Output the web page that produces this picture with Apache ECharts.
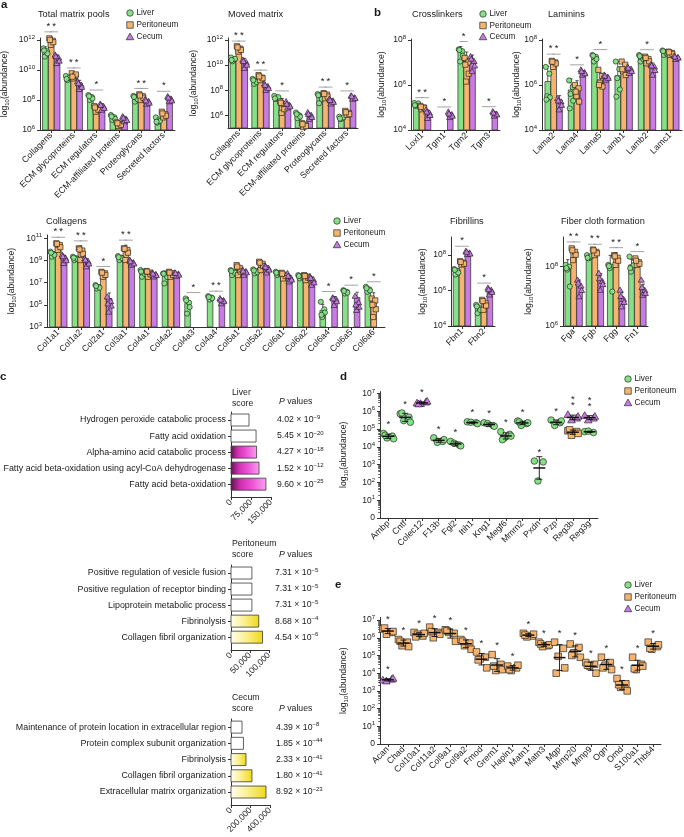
<!DOCTYPE html>
<html><head><meta charset="utf-8">
<script src="https://cdn.jsdelivr.net/npm/echarts@6/dist/echarts.min.js"></script>
<style>html,body{margin:0;padding:0;background:#fff}#c{width:684px;height:837px}</style>
</head><body><div id="c"></div>
<script>
// ================= DATA (values are log10(abundance) unless noted) =================
const groupNames = ['Liver', 'Peritoneum', 'Cecum'];

// a – Total matrix pools
const totalCats = ['Collagens','ECM glycoproteins','ECM regulators','ECM-affiliated proteins','Proteoglycans','Secreted factors'];
const totalLiver = [11.33, 9.51, 8.18, 6.84, 8.22, 6.71];
const totalPerit = [12.04, 9.67, 7.51, 6.44, 8.29, 7.11];
const totalCecum = [10.78, 9.11, 7.60, 6.78, 7.93, 8.11];
const totalLiverPts = [[11.44,11.25,10.89,11.1,11.3],[9.6,9.45,9.33,9.52,9.4],[8.33,8.2,8.0,8.1,8.25],[7.0,6.85,6.67,6.75,6.9],[8.27,8.15,7.89,8.05,8.2],[6.84,6.7,6.49,6.6,6.55]];
const totalPeritPts = [[12.11,11.95,11.67,11.85,12.0],[9.78,9.6,9.44,9.7,9.55],[7.6,7.45,7.22,7.35,7.5],[6.51,6.4,6.27,6.35,6.45],[8.38,8.25,8.0,8.15,8.3],[7.22,7.05,6.84,6.95,7.1]];
const totalCecumPts = [[11.0,10.8,10.44,10.6,10.9],[9.22,9.0,8.71,8.85,9.1],[7.73,7.55,7.33,7.45,7.65],[6.89,6.7,6.56,6.65,6.8],[8.04,7.9,7.73,7.8,7.95],[8.22,8.05,7.89,7.95,8.15]];
const totalSig = [[0,0,1],[0,1,2],[1,0,1],[1,1,2],[2,0,2],[4,0,1],[4,1,2],[5,0,2]];

// a – Moved matrix
const movedCats = totalCats;
const movedLiver = [10.47, 8.75, 7.42, 6.05, 7.5, 5.86];
const movedPerit = [11.34, 9.04, 6.97, 5.25, 7.69, 6.18];
const movedCecum = [10.28, 8.24, 6.76, 5.97, 7.19, 7.42];
const movedLiverPts = [[10.6,10.45,10.3,10.5,10.4],[8.9,8.75,8.5,8.65,8.8],[7.55,7.4,7.3,7.45,7.35],[6.23,6.0,5.78,5.9,6.1],[7.7,7.5,6.97,7.3,7.6],[5.9,5.8,5.7,5.85,5.75]];
const movedPeritPts = [[11.5,11.3,11.07,11.2,11.4],[9.2,9.0,8.8,8.95,9.1],[7.1,6.9,6.2,6.5,7.0],[5.4,5.25,5.07,5.15,5.3],[7.77,7.65,7.37,7.5,7.7],[6.36,6.2,6.05,6.1,6.25]];
const movedCecumPts = [[10.4,10.2,9.75,10.0,10.3],[8.5,8.3,8.0,8.15,8.4],[7.1,6.8,6.6,6.7,6.9],[6.23,6.0,5.7,5.85,6.1],[7.3,7.15,6.92,7.05,7.2],[7.55,7.4,7.3,7.35,7.5]];
const movedSig = [[0,0,1],[0,1,2],[1,0,1],[1,1,2],[2,0,2],[4,0,1],[4,1,2],[5,0,2]];

// b – Crosslinkers
const crossCats = ['Loxl1','Tgm1','Tgm2','Tgm3'];
const crossLiver = [5.16, null, 7.48, null];
const crossPerit = [5.0, null, 7.04, null];
const crossCecum = [4.74, 4.67, 7.07, 4.74];
const crossLiverPts = [[5.2,5.12,5.07,5.18,5.1],[],[7.58,7.5,7.04,7.3,7.55],[]];
const crossPeritPts = [[5.07,5.0,4.92,4.98,5.03],[],[7.2,7.0,6.15,6.5,6.9],[]];
const crossCecumPts = [[4.9,4.75,4.52,4.65,4.8],[4.8,4.68,4.56,4.62,4.72],[7.26,7.05,6.6,6.85,7.15],[4.81,4.7,4.62,4.68,4.76]];
const crossSig = [[0,0,1],[0,1,2],[1,0,2],[2,0,1],[3,0,2]];

// b – Laminins
const lamCats = ['Lama2','Lama4','Lama5','Lamb1','Lamb2','Lamc1'];
const lamLiver = [6.15, 5.78, 7.23, 6.41, 7.23, 7.44];
const lamPerit = [7.04, 5.9, 6.22, 6.74, 7.16, 7.41];
const lamCecum = [5.33, 6.55, 6.34, 6.67, 6.79, 7.23];
const lamLiverPts = [[6.8,6.5,5.5,5.45,5.35],[6.2,5.9,5.6,5.3,4.96],[7.33,7.25,7.04,7.15,7.3],[7.04,6.7,6.3,5.8,5.48],[7.33,7.2,7.04,7.15,7.28],[7.53,7.45,7.33,7.4,7.5]];
const lamPeritPts = [[7.07,7.0,6.8,6.95,7.03],[6.0,5.85,5.5,5.26,5.7],[6.67,6.4,6.1,5.93,6.0],[7.04,6.9,6.6,6.44,6.7],[7.26,7.15,6.96,7.05,7.2],[7.48,7.42,7.33,7.38,7.45]];
const lamCecumPts = [[5.4,5.25,4.9,5.1,5.3],[6.67,6.55,6.44,6.5,6.6],[6.44,6.35,6.22,6.3,6.4],[6.8,6.7,6.52,6.6,6.75],[6.9,6.8,6.44,6.65,6.85],[7.29,7.22,7.14,7.2,7.25]];
const lamSig = [[0,0,1],[0,1,2],[1,0,2],[2,0,2],[4,0,2]];

// a – Collagens
const colCats = ['Col1a1','Col1a2','Col2a1','Col3a1','Col4a1','Col4a2','Col4a3','Col4a4','Col5a1','Col5a2','Col6a1','Col6a2','Col6a4','Col6a5','Col6a6'];
const colLiver = [9.59, 9.19, 6.63, 9.25, 7.89, 7.68, 5.11, 5.66, 7.98, 8.05, 7.83, 7.53, 4.51, 6.17, 6.38];
const colPerit = [10.4, 9.89, 7.83, 9.95, 7.89, 7.83, null, null, 8.29, 8.68, 7.68, 7.53, null, null, 5.42];
const colCecum = [9.19, 8.89, 5.57, 8.8, 7.74, 7.77, null, 5.36, 7.98, 8.29, 7.38, 7.23, 5.48, 5.66, null];
const colLiverPts = [[9.8,9.6,9.34,9.5,9.7],[9.34,9.2,9.04,9.15,9.25],[6.78,6.6,6.47,6.55,6.7],[9.4,9.25,9.04,9.2,9.3],[8.14,7.9,7.53,7.8,8.0],[7.83,7.7,6.93,7.5,7.8],[5.57,5.2,4.21,4.8,5.4],[5.78,5.65,5.48,5.6,5.7],[8.14,8.0,7.68,7.9,8.05],[8.2,8.05,7.83,7.95,8.1],[7.98,7.85,7.68,7.8,7.9],[7.68,7.55,7.38,7.5,7.6],[5.27,4.6,3.9,4.3,4.1],[6.32,6.18,6.02,6.1,6.25],[6.63,6.4,6.17,6.3,6.5]];
const colPeritPts = [[10.55,10.4,9.95,10.2,10.5],[10.1,9.9,9.04,9.6,10.0],[7.98,7.85,7.53,7.7,7.9],[10.1,9.95,9.04,9.7,10.05],[8.05,7.9,7.53,7.75,8.0],[7.98,7.85,7.53,7.7,7.9],[],[],[8.59,8.3,7.68,8.0,8.45],[8.89,8.7,8.14,8.5,8.8],[7.89,7.7,7.38,7.6,7.8],[7.68,7.55,7.23,7.45,7.6],[],[],[5.57,5.4,3.9,4.6,5.0]];
const colCecumPts = [[9.5,9.2,8.74,9.0,9.35],[9.19,8.9,8.44,8.7,9.05],[5.72,5.3,4.36,4.9,5.1],[9.04,8.8,8.59,8.7,8.9],[7.89,7.75,7.53,7.65,7.8],[7.89,7.78,7.59,7.7,7.85],[],[5.57,5.4,5.11,5.3,5.45],[8.14,8.0,7.68,7.9,8.05],[8.5,8.3,7.89,8.15,8.4],[7.83,7.4,7.08,7.25,7.6],[7.53,7.25,6.78,7.0,7.4],[5.63,5.5,4.96,5.3,5.55],[5.78,5.2,4.51,4.8,5.0],[]];
const colSig = [[0,0,1],[0,1,2],[1,0,1],[1,1,2],[2,0,2],[3,0,1],[3,1,2],[6,0,2],[7,0,1],[7,1,2],[12,0,2],[13,0,2],[14,0,2]];

// b – Fibrillins
const fbnCats = ['Fbn1','Fbn2'];
const fbnLiver = [7.11, 5.0];
const fbnPerit = [7.55, 5.32];
const fbnCecum = [8.11, 5.98];
const fbnLiverPts = [[7.2,7.1,6.89,7.0,7.15],[5.19,5.0,4.72,4.9,5.1]];
const fbnPeritPts = [[7.64,7.55,7.45,7.5,7.6],[5.47,5.3,4.91,5.15,5.4]];
const fbnCecumPts = [[8.2,8.1,8.02,8.05,8.15],[6.13,6.0,5.75,5.9,6.05]];
const fbnSig = [[0,0,2],[1,0,2]];

// b – Fiber cloth formation
const fibCats = ['Fga','Fgb','Fgg','Fn1'];
const fibLiver = [7.94, 8.34, 8.0, 8.06];
const fibPerit = [8.51, 8.51, 8.34, 8.17];
const fibCecum = [7.33, 7.55, 6.93, 7.21];
const fibLiverPts = [[8.06,8.0,7.9,7.33,7.95],[8.39,8.33,8.28,8.35,8.3],[8.06,8.0,7.95,7.16,8.02],[8.34,8.0,7.83,8.05,7.95]];
const fibPeritPts = [[8.62,8.5,8.22,8.4,8.55],[8.58,8.5,8.39,8.45,8.55],[8.39,8.3,8.06,8.2,8.35],[8.28,8.15,8.06,8.1,8.2]];
const fibCecumPts = [[7.55,7.35,6.99,7.2,7.45],[7.78,7.5,7.21,7.4,7.6],[7.21,6.9,6.65,6.8,7.0],[7.55,7.2,7.04,7.1,7.3]];
const fibSig = [[0,0,1],[0,1,2],[1,0,1],[1,1,2],[2,0,1],[2,1,2],[3,0,2]];

// c – GO term scores (linear) and P values
const liverTerms = ['Hydrogen peroxide catabolic process','Fatty acid oxidation','Alpha-amino acid catabolic process','Fatty acid beta-oxidation using acyl-CoA dehydrogenase','Fatty acid beta-oxidation'];
const liverScores = [67500, 94000, 96000, 105000, 131000];
const liverP = [4.02e-9, 5.45e-20, 4.27e-18, 1.52e-12, 9.60e-25];
const peritTerms = ['Positive regulation of vesicle fusion','Positive regulation of receptor binding','Lipoprotein metabolic process','Fibrinolysis','Collagen fibril organization'];
const peritScores = [55000, 55000, 55000, 73000, 83000];
const peritP = [7.31e-5, 7.31e-5, 7.31e-5, 8.68e-4, 4.54e-6];
const cecumTerms = ['Maintenance of protein location in extracellular region','Protein complex subunit organization','Fibrinolysis','Collagen fibril organization','Extracellular matrix organization'];
const cecumScores = [113000, 128000, 154000, 215000, 359000];
const cecumP = [4.39e-8, 1.85e-44, 2.33e-41, 1.80e-41, 8.92e-23];
const liverScoreTicks = [0, 75000, 150000];
const peritScoreTicks = [0, 50000, 100000];
const cecumScoreTicks = [0, 200000, 400000];

// d – tissue-specific proteins
const dCats = ['Ambp','Cntf','Colec12','F13b','Fgl2','Itih1','Kng1','Megf6','Mmrn2','Pxdn','Pzp','Reg3b','Reg3g'];
const dLiverPts = [[4.75,4.6,4.5,4.45,4.65],[5.85,5.66,5.47,5.38,5.9],[],[4.5,4.3,4.25,4.4],[4.3,4.1,4.2,4.05],[5.4,5.35,5.38,5.3],[5.35,5.2,5.3,5.15],[4.85,4.7,4.5,4.6,4.4],[5.45,5.3,5.2,5.35,5.4],[3.2,3.15,2.08],[5.5,5.35,5.2,5.45],[],[4.85,4.8,4.88]];
const dPeritPts = [[],[],[],[],[],[],[],[],[],[],[],[4.9,4.85,4.65,4.75,4.95],[]];
const dCecumPts = [[],[],[6.45,6.5,6.42,6.55,6.4],[],[],[],[],[],[],[],[],[5.8,5.6,5.5,5.7],[5.75,5.6,5.5,5.7]];

// e
const eCats = ['Acan','Chad','Col10a1','Col11a2','Col9a1','Col9a2','Fmod','Grem1','Hapln1','Matn1','Matn3','Mgp','Mmp20','Mmp9','Ogn','Omd','S100a1','Thbs4'];
const eLiverPts = [[],[],[],[],[],[],[],[],[],[],[],[],[],[],[],[],[],[]];
const ePeritPts = [[6.5,6.3,6.2,6.35,6.55],[5.9,5.75,5.55,5.5,5.8],[6.3,6.1,6.2,6.25,6.05],[6.6,6.3,6.0,6.2,6.35],[6.45,6.25,6.3,5.8,6.4],[5.9,5.7,5.55,5.35,5.8],[5.2,4.9,4.8,4.3,4.75],[5.05,4.5,4.15,4.2,4.4],[4.4,4.3,4.15,4.45,4.2],[6.25,6.1,6.05,6.2,6.15],[5.75,5.55,5.5,5.6,5.65],[5.75,5.4,4.95,4.3,4.0],[5.65,5.45,5.15,4.9,5.0],[4.6,4.5,4.4,4.0,4.45],[4.9,4.6,4.45,4.2,4.3],[3.7,3.4,3.2,3.0,3.35],[4.9,4.5,4.2,4.4,4.25],[5.75,5.5,5.35,5.6,5.4]];
const eCecumPts = [[3.6,3.65,3.55,3.7],[],[],[],[],[],[],[],[],[],[],[],[],[],[],[],[],[]];

// ================= STYLE / LAYOUT =================
const FONT = 'Liberation Sans, Arial, Helvetica, sans-serif';
const TXT = '#1a1a1a', AX = '#333';
const FILL = ['#86e186', '#f6b46e', '#c97be4'];
const JIT = [-0.9, 0.7, -0.25, 0.95, -0.6, 0.35];
const STEP = 5.9, BW = 5.6;

const grids = [], xAxes = [], yAxes = [], series = [], graphics = [];

function meanOf(a){ return a.reduce((s,v)=>s+v,0)/a.length; }
function sdOf(a){ if(!a || a.length<2) return 0; const m = meanOf(a); return Math.sqrt(a.reduce((s,v)=>s+(v-m)*(v-m),0)/(a.length-1)); }

function marker(g, x, y, s){
  const st = {fill: FILL[g], stroke:'#1e1e1e', lineWidth:0.65};
  if (g===0) return {type:'circle', shape:{cx:x, cy:y, r:s/2}, style:st};
  if (g===1) return {type:'rect', shape:{x:x-s/2, y:y-s/2, width:s, height:s}, style:st};
  return {type:'polygon', shape:{points:[[x,y-s*0.6],[x+s*0.58,y+s*0.42],[x-s*0.58,y+s*0.42]]}, style:st};
}

function catX(gi, cats){
  return {type:'category', gridIndex:gi, data:cats, boundaryGap:true,
    axisLine:{show:true, onZero:false, lineStyle:{color:AX, width:1}},
    axisTick:{show:true, alignWithLabel:true, length:3, lineStyle:{color:AX, width:1}},
    axisLabel:{interval:0, rotate:45, fontSize:8.8, color:TXT, fontFamily:FONT, margin:4},
    splitLine:{show:false}};
}
function logY(gi, min, max, ticks, nameGap, zero){
  return {type:'value', gridIndex:gi, min, max, position:'left',
    splitLine:{show:false},
    axisLine:{show:true, onZero:false, lineStyle:{color:AX, width:1}},
    axisTick:{show:true, length:3, customValues:ticks, lineStyle:{color:AX, width:1}},
    axisLabel:{customValues:ticks, margin:5, fontSize:8.5, lineHeight:11, color:TXT, fontFamily:FONT,
      formatter: v => (zero && v===0) ? '0' : '10{s|'+v+'}',
      rich:{s:{fontSize:6, lineHeight:7, verticalAlign:'top', color:TXT, fontFamily:FONT}}},
    name:'log{b|10}(abundance)', nameLocation:'middle', nameGap, nameRotate:90, nameMoveOverlap:false,
    nameTextStyle:{fontSize:8.6, lineHeight:11, color:TXT, fontFamily:FONT,
      rich:{b:{fontSize:6, lineHeight:7, verticalAlign:'bottom', color:TXT, fontFamily:FONT}}}};
}
function addGrid(l,t,w,h){ grids.push({left:l, top:t, width:w, height:h, containLabel:false, outerBoundsMode:'none'}); return grids.length-1; }

function addBarPanel(cfg){
  const gi = addGrid(cfg.left, cfg.top, cfg.width, cfg.height);
  xAxes.push(catX(gi, cfg.cats));
  const xi = xAxes.length-1;
  yAxes.push(logY(gi, cfg.min, cfg.max, cfg.ticks, cfg.nameGap, false));
  const yi = yAxes.length-1;
  const bars=[], pts=[], tops=[];
  cfg.cats.forEach((c,i)=>{
    let top = -Infinity;
    for (let g=0; g<3; g++){
      const m = cfg.means[g][i]; const arr = cfg.pts[g][i] || []; const sd = sdOf(arr);
      if (m != null){ bars.push([i,g,m,sd]); top = Math.max(top, m+sd); }
      arr.forEach((v,k)=>{ pts.push([i,g,v,k]); top = Math.max(top, v); });
    }
    tops[i] = top;
  });
  const min = cfg.min;
  series.push({type:'custom', xAxisIndex:xi, yAxisIndex:yi, encode:{x:0, y:2}, data:bars, silent:true,
    renderItem(params, api){
      const cat=api.value(0), g=api.value(1), v=api.value(2), sd=api.value(3);
      const p=api.coord([cat,v]), b=api.coord([cat,min]);
      const cx=p[0]+(g-1)*STEP;
      const ch=[{type:'rect', shape:{x:cx-BW/2, y:p[1], width:BW, height:b[1]-p[1]}, style:{fill:FILL[g], stroke:'#2b2b2b', lineWidth:0.7}}];
      if (sd>0){
        const ye=api.coord([cat, v+sd])[1];
        ch.push({type:'line', shape:{x1:cx,y1:p[1],x2:cx,y2:ye}, style:{stroke:'#111', lineWidth:0.7}});
        ch.push({type:'line', shape:{x1:cx-1.6,y1:ye,x2:cx+1.6,y2:ye}, style:{stroke:'#111', lineWidth:0.7}});
      }
      return {type:'group', children:ch};
    }});
  series.push({type:'custom', xAxisIndex:xi, yAxisIndex:yi, encode:{x:0, y:2}, data:pts, silent:true,
    renderItem(params, api){
      const cat=api.value(0), g=api.value(1), v=api.value(2), k=api.value(3);
      const p=api.coord([cat,v]);
      return marker(g, p[0]+(g-1)*STEP+JIT[k%6]*2.2, p[1], 5.2);
    }});
  const sig = cfg.sig.map(s=>[s[0], s[1], s[2], tops[s[0]]]);
  series.push({type:'custom', xAxisIndex:xi, yAxisIndex:yi, encode:{x:0, y:3}, data:sig, silent:true,
    renderItem(params, api){
      const cat=api.value(0), g1=api.value(1), g2=api.value(2), t=api.value(3);
      const p=api.coord([cat,t]);
      const x1=p[0]+(g1-1)*STEP-1, x2=p[0]+(g2-1)*STEP+1, y=p[1]-5;
      return {type:'group', children:[
        {type:'line', shape:{x1, y1:y, x2, y2:y}, style:{stroke:'#9a9a9a', lineWidth:0.9}},
        {type:'text', style:{text:'*', x:(x1+x2)/2, y:y-0.5, fill:TXT, fontSize:9.5, fontFamily:FONT, align:'center', verticalAlign:'bottom', textAlign:'center', textVerticalAlign:'bottom'}}
      ]};
    }});
}

function addDotPanel(cfg){
  const gi = addGrid(cfg.left, cfg.top, cfg.width, cfg.height);
  xAxes.push(catX(gi, cfg.cats));
  const xi = xAxes.length-1;
  const ticks=[0,1,2,3,4,5,6,7];
  yAxes.push(logY(gi, 0, cfg.max, ticks, cfg.nameGap, true));
  const yi = yAxes.length-1;
  const minor=[];
  for (let d=0; d<7; d++) for (let k=2; k<=9; k++) minor.push(d+Math.log10(k));
  yAxes.push({type:'value', gridIndex:gi, min:0, max:cfg.max, position:'left', axisLine:{show:false}, splitLine:{show:false}, axisLabel:{show:false},
    axisTick:{show:true, length:1.8, customValues:minor, lineStyle:{color:AX, width:0.8}}});
  const pts=[], stats=[], stars=[];
  cfg.cats.forEach((c,i)=>{
    const present=[];
    for (let g=0; g<3; g++){
      const arr = cfg.pts[g][i] || [];
      if (!arr.length) continue;
      arr.forEach((v,k)=>pts.push([i,g,v,k]));
      stats.push([i,g,meanOf(arr),sdOf(arr)]);
      present.push({g, max:Math.max(...arr), min:Math.min(...arr)});
    }
    present.sort((a,b)=>b.max-a.max);
    let refMax=null, refMin=null, stack=0;
    present.forEach((o,idx)=>{
      if (idx===0 || refMin - o.max > 1.2){ stack=0; refMax=o.max; refMin=o.min; stars.push([i, refMax, 0]); }
      else { stack++; refMin=Math.min(refMin,o.min); stars.push([i, refMax, stack]); }
    });
  });
  series.push({type:'custom', xAxisIndex:xi, yAxisIndex:yi, encode:{x:0, y:2}, data:pts, silent:true,
    renderItem(params, api){
      const cat=api.value(0), g=api.value(1), v=api.value(2), k=api.value(3);
      const p=api.coord([cat,v]);
      return marker(g, p[0]+JIT[k%6]*5.5, p[1], 6.6);
    }});
  series.push({type:'custom', xAxisIndex:xi, yAxisIndex:yi, encode:{x:0, y:2}, data:stats, silent:true,
    renderItem(params, api){
      const cat=api.value(0), m=api.value(2), sd=api.value(3);
      const p=api.coord([cat,m]);
      const hi=api.coord([cat,m+sd])[1], lo=api.coord([cat,Math.max(0,m-sd)])[1];
      const st={stroke:'#111', lineWidth:0.9};
      return {type:'group', children:[
        {type:'line', shape:{x1:p[0],y1:hi,x2:p[0],y2:lo}, style:st},
        {type:'line', shape:{x1:p[0]-3,y1:hi,x2:p[0]+3,y2:hi}, style:st},
        {type:'line', shape:{x1:p[0]-3,y1:lo,x2:p[0]+3,y2:lo}, style:st},
        {type:'line', shape:{x1:p[0]-6,y1:p[1],x2:p[0]+6,y2:p[1]}, style:{stroke:'#111', lineWidth:1.5}}
      ]};
    }});
  series.push({type:'custom', xAxisIndex:xi, yAxisIndex:yi, encode:{x:0, y:1}, data:stars, silent:true,
    renderItem(params, api){
      const cat=api.value(0), v=api.value(1), s=api.value(2);
      const p=api.coord([cat,v]);
      return {type:'text', style:{text:'*', x:p[0], y:p[1]-4-6.5*s, fill:TXT, fontSize:9.5, fontFamily:FONT, align:'center', verticalAlign:'bottom', textAlign:'center', textVerticalAlign:'bottom'}};
    }});
}

const PINK = {type:'linear', x:0, y:0, x2:1, y2:0, colorStops:[{offset:0,color:'#5e1250'},{offset:0.28,color:'#d12fb0'},{offset:0.6,color:'#ee52d6'},{offset:1,color:'#f7a3ec'}]};
const YELLOW = {type:'linear', x:0, y:0, x2:1, y2:0, colorStops:[{offset:0,color:'#fffef2'},{offset:0.5,color:'#faef8a'},{offset:1,color:'#efd816'}]};
const C_FILLS = ['#ffffff', PINK, YELLOW];
const liverKinds = [0,0,1,1,1], peritKinds = [0,0,0,2,2], cecumKinds = [0,0,2,2,2];

function pStr(p){ const parts=p.toExponential(2).split('e'); return parts[0]+' × 10{s|'+parts[1].replace('-','−')+'}'; }

function addScorePanel(cfg){
  const gi = addGrid(cfg.left, cfg.top, cfg.width, cfg.height);
  const M = cfg.ticks[cfg.ticks.length-1];
  xAxes.push({type:'value', gridIndex:gi, min:0, max:M, splitLine:{show:false}, position:'bottom',
    axisLine:{show:true, onZero:false, lineStyle:{color:AX, width:1}},
    axisTick:{show:true, length:3, customValues:cfg.ticks, lineStyle:{color:AX}},
    axisLabel:{customValues:cfg.ticks, rotate:45, fontSize:8.5, color:TXT, fontFamily:FONT, margin:4, formatter:v=>v.toLocaleString('en-US')}});
  const xi = xAxes.length-1;
  const rows=[0,1,2,3,4];
  yAxes.push({type:'value', gridIndex:gi, min:-0.5, max:4.8, inverse:true, position:'left', splitLine:{show:false},
    axisLine:{show:true, onZero:false, lineStyle:{color:AX, width:1}},
    axisTick:{show:true, length:3, customValues:rows, lineStyle:{color:AX}},
    axisLabel:{customValues:rows, fontSize:8.9, color:TXT, fontFamily:FONT, margin:5, formatter:v=>cfg.terms[v]}});
  const yi = yAxes.length-1;
  yAxes.push({type:'value', gridIndex:gi, min:-0.5, max:4.8, inverse:true, position:'right', splitLine:{show:false},
    axisLine:{show:false, onZero:false}, axisTick:{show:false},
    axisLabel:{customValues:rows, fontSize:8.7, lineHeight:11, color:TXT, fontFamily:FONT, margin:6, formatter:v=>pStr(cfg.p[v]),
      rich:{s:{fontSize:6, lineHeight:7, verticalAlign:'top', color:TXT, fontFamily:FONT}}}});
  series.push({type:'custom', xAxisIndex:xi, yAxisIndex:yi, encode:{x:0, y:1}, silent:true,
    data: cfg.scores.map((s,r)=>[s, r, cfg.kinds[r]]),
    renderItem(params, api){
      const s=api.value(0), r=api.value(1), kd=api.value(2);
      const p0=api.coord([0,r]), p1=api.coord([s,r]);
      return {type:'rect', shape:{x:p0[0], y:p0[1]-6, width:p1[0]-p0[0], height:12}, style:{fill:C_FILLS[kd], stroke:'#3a3a3a', lineWidth:0.8}};
    }});
}

// ---------- panels ----------
addBarPanel({left:40, top:38, width:135, height:92, min:6, max:12.13, ticks:[6,8,10,12], nameGap:30, cats:totalCats,
  means:[totalLiver,totalPerit,totalCecum], pts:[totalLiverPts,totalPeritPts,totalCecumPts], sig:totalSig});
addBarPanel({left:228, top:38, width:130, height:90, min:5, max:12.15, ticks:[6,8,10,12], nameGap:29, cats:movedCats,
  means:[movedLiver,movedPerit,movedCecum], pts:[movedLiverPts,movedPeritPts,movedCecumPts], sig:movedSig});
addBarPanel({left:411, top:39, width:89, height:91, min:4, max:8.04, ticks:[4,6,8], nameGap:24, cats:crossCats,
  means:[crossLiver,crossPerit,crossCecum], pts:[crossLiverPts,crossPeritPts,crossCecumPts], sig:crossSig});
addBarPanel({left:542, top:39, width:140, height:91, min:4, max:8.04, ticks:[4,6,8], nameGap:20, cats:lamCats,
  means:[lamLiver,lamPerit,lamCecum], pts:[lamLiverPts,lamPeritPts,lamCecumPts], sig:lamSig});
addBarPanel({left:47, top:235, width:338, height:92, min:3, max:11.3, ticks:[3,5,7,9,11], nameGap:30, cats:colCats,
  means:[colLiver,colPerit,colCecum], pts:[colLiverPts,colPeritPts,colCecumPts], sig:colSig});
addBarPanel({left:451, top:237, width:44, height:89, min:4, max:9, ticks:[4,6,8], nameGap:23, cats:fbnCats,
  means:[fbnLiver,fbnPerit,fbnCecum], pts:[fbnLiverPts,fbnPeritPts,fbnCecumPts], sig:fbnSig});
addBarPanel({left:563, top:237, width:85, height:89, min:6, max:9, ticks:[6,8], nameGap:29, cats:fibCats,
  means:[fibLiver,fibPerit,fibCecum], pts:[fibLiverPts,fibPeritPts,fibCecumPts], sig:fibSig});

addScorePanel({left:231, top:412, width:40, height:85, ticks:liverScoreTicks, terms:liverTerms, scores:liverScores, p:liverP, kinds:liverKinds});
addScorePanel({left:231, top:565, width:38, height:85, ticks:peritScoreTicks, terms:peritTerms, scores:peritScores, p:peritP, kinds:peritKinds});
addScorePanel({left:231, top:719, width:39, height:86, ticks:cecumScoreTicks, terms:cecumTerms, scores:cecumScores, p:cecumP, kinds:cecumKinds});

addDotPanel({left:380, top:391.6, width:218, height:126.4, max:7.1, nameGap:31, cats:dCats, pts:[dLiverPts,dPeritPts,dCecumPts]});
addDotPanel({left:380, top:617.4, width:281, height:126.6, max:7.15, nameGap:31, cats:eCats, pts:[eLiverPts,ePeritPts,eCecumPts]});

// ---------- text / legends ----------
function txt(text, x, y, opt){
  graphics.push({type:'text', silent:true, style:Object.assign({text, x, y, fill:TXT, fontSize:8.8, fontFamily:FONT, align:'left', verticalAlign:'middle', textAlign:'left', textVerticalAlign:'middle'}, opt||{})});
}
[['a',1,5],['b',374,13],['c',0,377],['d',340,377],['e',335,585]].forEach(l=>txt(l[0], l[1], l[2], {fontSize:11.5, fontWeight:'bold'}));
txt('Total matrix pools', 38, 14, {fontSize:9.2});
txt('Moved matrix', 228, 14, {fontSize:9.2});
txt('Crosslinkers', 412, 14, {fontSize:9.2});
txt('Laminins', 548, 14, {fontSize:9.2});
txt('Collagens', 46, 221, {fontSize:9.2});
txt('Fibrillins', 450, 221, {fontSize:9.2});
txt('Fiber cloth formation', 561, 221, {fontSize:9.2});

function legend(x, y0, dy){
  groupNames.forEach((n,g)=>{
    graphics.push(Object.assign({silent:true}, marker(g, x, y0+g*dy, 6.5)));
    txt(n, x+6.5, y0+g*dy, {fontSize:8.2});
  });
}
legend(130, 13, 12);
legend(483, 14, 11.5);
legend(337, 221, 12);
legend(628, 379, 12);
legend(628, 585, 12);

[['Liver',386.5,402],['Peritoneum',537.5,555],['Cecum',691.5,709]].forEach(h=>{
  txt(h[0]+'\nscore', 232, h[1], {verticalAlign:'top', textVerticalAlign:'top', lineHeight:11.5, fontSize:8.7});
  txt('{i|P} values', 279, h[2], {fontSize:8.7, rich:{i:{fontStyle:'italic', fontSize:8.7, fontFamily:FONT, fill:TXT}}});
});

const chart = echarts.init(document.getElementById('c'), null, {renderer:'canvas'});
chart.setOption({animation:false, backgroundColor:'#fff', textStyle:{fontFamily:FONT},
  grid:grids, xAxis:xAxes, yAxis:yAxes, series, graphic:{elements:graphics}});
</script></body></html>
